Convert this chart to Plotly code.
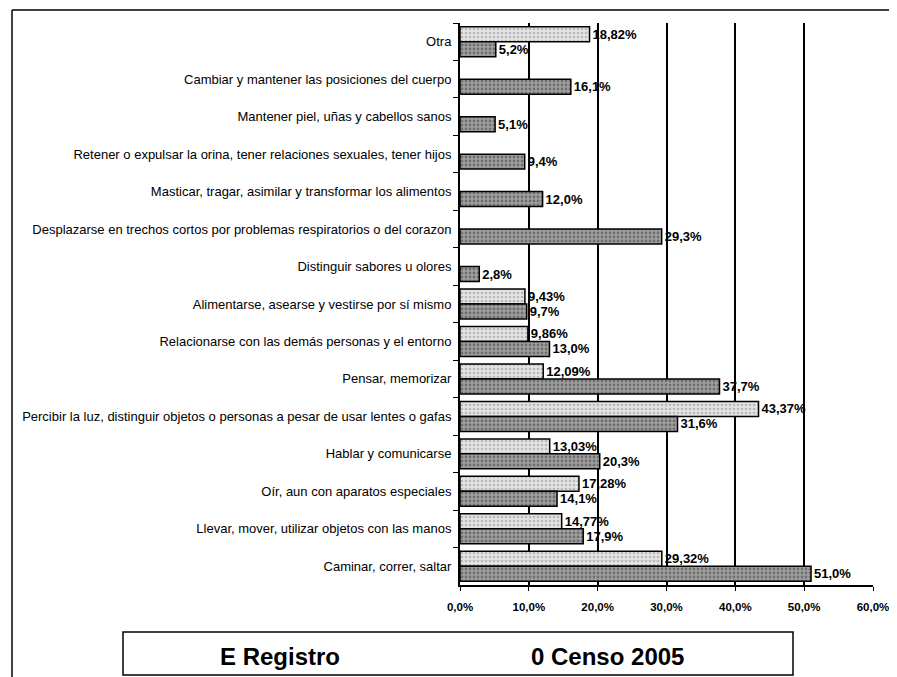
import plotly.graph_objects as go

categories = [
    "Otra",
    "Cambiar y mantener las posiciones del cuerpo",
    "Mantener piel, uñas y cabellos sanos",
    "Retener o expulsar la orina, tener relaciones sexuales, tener hijos",
    "Masticar, tragar, asimilar y transformar los alimentos",
    "Desplazarse en trechos cortos por problemas respiratorios o del corazon",
    "Distinguir sabores u olores",
    "Alimentarse, asearse y vestirse por sí mismo",
    "Relacionarse con las demás personas y el entorno",
    "Pensar, memorizar",
    "Percibir la luz, distinguir objetos o personas a pesar de usar lentes o gafas",
    "Hablar y comunicarse",
    "Oír, aun con aparatos especiales",
    "Llevar, mover, utilizar objetos con las manos",
    "Caminar, correr, saltar",
]
registro = [18.82, None, None, None, None, None, None, 9.43, 9.86, 12.09, 43.37, 13.03, 17.28, 14.77, 29.32]
censo = [5.2, 16.1, 5.1, 9.4, 12.0, 29.3, 2.8, 9.7, 13.0, 37.7, 31.6, 20.3, 14.1, 17.9, 51.0]
tick_vals = [0, 10, 20, 30, 40, 50, 60]
tick_text = ["0,0%", "10,0%", "20,0%", "30,0%", "40,0%", "50,0%", "60,0%"]
legend_labels = ["E Registro", "0 Censo 2005"]


def fmt(v, nd):
    if v is None:
        return ""
    return (f"{v:.{nd}f}").replace(".", ",") + "%"


label_font = dict(family="Liberation Sans", size=13, color="black")

fig = go.Figure()
fig.add_trace(go.Bar(
    y=categories, x=registro, orientation="h", name="Registro",
    marker=dict(color="#e4e4e4", line=dict(color="black", width=1.5),
                pattern=dict(shape=".", fgcolor="#8c8c8c", bgcolor="#e4e4e4", size=4, solidity=0.35)),
    text=[f"<b>{fmt(v, 2)}</b>" if v is not None else "" for v in registro],
    textposition="outside", constraintext="none",
    textfont=label_font, cliponaxis=False,
))
fig.add_trace(go.Bar(
    y=categories, x=censo, orientation="h", name="Censo 2005",
    marker=dict(color="#8e8e8e", line=dict(color="black", width=1.5),
                pattern=dict(shape=".", fgcolor="#3c3c3c", bgcolor="#a0a0a0", size=4, solidity=0.4)),
    text=[f"<b>{fmt(v, 1)}</b>" for v in censo],
    textposition="outside", constraintext="none",
    textfont=label_font, cliponaxis=False,
))

# The page body has an 8px margin, so figure pixel = screen pixel - 8
OFF = 8
W, H = 889, 669
L = 460 - OFF
T = 23 - OFF
R = W - (873 - OFF)
B = H - (585 - OFF)
pw = W - L - R
ph = H - T - B


def px_x(sx):
    return (sx - OFF - L) / pw


def px_y(sy):
    return (H - B - (sy - OFF)) / ph


shapes = [
    dict(type="rect", xref="paper", yref="paper",
         x0=px_x(123), x1=px_x(793), y0=px_y(675), y1=px_y(632),
         line=dict(color="black", width=1.5), fillcolor="white", layer="below"),
    dict(type="line", xref="paper", yref="paper",
         x0=px_x(12), x1=px_x(900), y0=px_y(10), y1=px_y(10),
         line=dict(color="black", width=1.5)),
    dict(type="line", xref="paper", yref="paper",
         x0=px_x(12), x1=px_x(12), y0=px_y(10), y1=px_y(680),
         line=dict(color="black", width=1.5)),
]

annotations = [
    dict(text=f"<b>{legend_labels[0]}</b>", xref="paper", yref="paper",
         x=px_x(280), y=px_y(656), xanchor="center", yanchor="middle", showarrow=False,
         font=dict(family="Liberation Sans", size=24, color="black")),
    dict(text=f"<b>{legend_labels[1]}</b>", xref="paper", yref="paper",
         x=px_x(607), y=px_y(656), xanchor="center", yanchor="middle", showarrow=False,
         font=dict(family="Liberation Sans", size=24, color="black")),
]

fig.update_layout(
    width=W, height=H,
    margin=dict(l=L, r=R, t=T, b=B, autoexpand=False),
    paper_bgcolor="white", plot_bgcolor="white",
    barmode="group", bargap=0.2, bargroupgap=0.0,
    showlegend=False,
    shapes=shapes, annotations=annotations,
    font=dict(family="Liberation Sans", color="black"),
)
fig.update_xaxes(
    range=[0, 60], tickvals=tick_vals,
    ticktext=[f"<b>{t}</b>" for t in tick_text],
    tickfont=dict(family="Liberation Sans", size=11.5, color="black"),
    showgrid=True, gridcolor="black", gridwidth=2,
    showline=True, linecolor="black", linewidth=2,
    ticks="outside", ticklen=4, tickcolor="black",
    zeroline=False, ticklabelstandoff=6, automargin=False,
)
fig.update_yaxes(
    autorange="reversed", showgrid=False,
    showline=True, linecolor="black", linewidth=2,
    ticks="outside", ticklen=5, tickcolor="black", tickson="boundaries",
    tickfont=dict(family="Liberation Sans", size=13, color="black"),
    ticklabelstandoff=4, automargin=False,
)

fig.write_html("out.html")
